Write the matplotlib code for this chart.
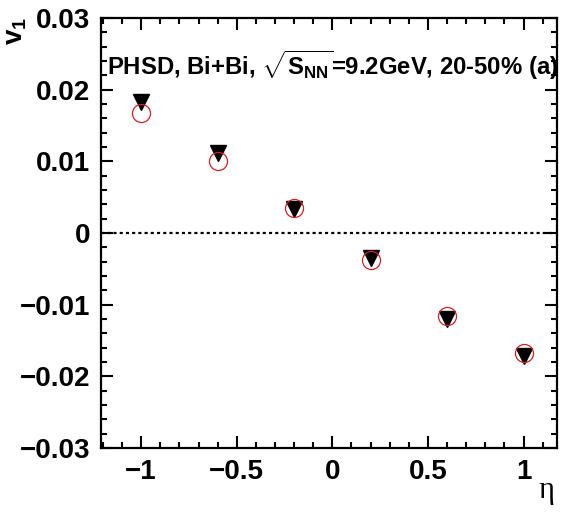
import numpy as np
import matplotlib
matplotlib.use('Agg')
from matplotlib import pyplot as plt
from matplotlib.ticker import MultipleLocator

plt.rcParams['font.family'] = ['Liberation Sans', 'DejaVu Sans']
plt.rcParams['mathtext.fontset'] = 'custom'
plt.rcParams['mathtext.rm'] = 'Liberation Sans:bold'
plt.rcParams['mathtext.it'] = 'Liberation Sans:bold'
plt.rcParams['mathtext.bf'] = 'Liberation Sans:bold'

# v1 vs eta, PHSD Bi+Bi 9.2 GeV, 20-50%
eta = [-1.0, -0.6, -0.2, 0.2, 0.6, 1.0]
v1_triangles = [0.0183, 0.0111, 0.0033, -0.0035, -0.0120, -0.0171]
v1_circles = [0.0168, 0.0101, 0.0035, -0.0037, -0.0116, -0.0167]

fig = plt.figure(figsize=(5.64, 5.17), dpi=100)
ax = fig.add_axes([101 / 564, 1 - 448 / 517, 456 / 564, 430 / 517])

ax.axhline(0, color='black', lw=1.6, linestyle=(0, (1.4, 1.4)), zorder=1)

ax.plot(eta, v1_triangles, linestyle='none', marker='v', markersize=12,
        color='black', zorder=3)
ax.plot(eta, v1_circles, linestyle='none', marker='o', markersize=13,
        markerfacecolor='none', markeredgecolor='#d42020', markeredgewidth=0.9,
        zorder=4)

ax.set_xlim(-1.21, 1.175)
ax.set_ylim(-0.03, 0.03)

ax.xaxis.set_major_locator(MultipleLocator(0.5))
ax.xaxis.set_minor_locator(MultipleLocator(0.1))
ax.yaxis.set_major_locator(MultipleLocator(0.01))
ax.yaxis.set_minor_locator(MultipleLocator(0.002))

ax.set_xticks([-1, -0.5, 0, 0.5, 1])
ax.set_xticklabels(['\u22121', '\u22120.5', '0', '0.5', '1'])
ax.set_yticks([-0.03, -0.02, -0.01, 0, 0.01, 0.02, 0.03])
ax.set_yticklabels(['\u22120.03', '\u22120.02', '\u22120.01', '0', '0.01', '0.02', '0.03'])

ax.tick_params(which='both', direction='in', top=True, right=True, width=1.5)
ax.tick_params(which='major', length=8.6, pad=8, labelsize=20)
ax.tick_params(which='minor', length=4.3)
for lab in ax.get_xticklabels() + ax.get_yticklabels():
    lab.set_fontweight('bold')
for sp in ax.spines.values():
    sp.set_linewidth(1.6)

ax.text(0.013, 0.868, r'PHSD, Bi+Bi, $\sqrt{\mathrm{S_{NN}}}$=9.2GeV, 20-50% (a)',
        transform=ax.transAxes, fontsize=17.2, fontweight='bold',
        ha='left', va='baseline')

fig.text(16 / 564, 1 - 17 / 517, r'v$_{1}$', rotation=90, fontsize=20,
         fontweight='bold', ha='center', va='top')
fig.text(554 / 564, 1 - 476 / 517, '\u03b7', fontsize=22,
         family=['Liberation Serif', 'DejaVu Serif'], ha='right', va='top')

fig.savefig('out.png', dpi=100)
